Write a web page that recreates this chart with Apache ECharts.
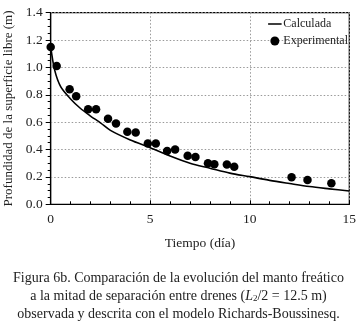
<!DOCTYPE html>
<html>
<head>
<meta charset="utf-8">
<script src="https://cdn.jsdelivr.net/npm/echarts@6/dist/echarts.min.js"></script>
<style>
  html, body { margin: 0; padding: 0; background: #fff; }
  #chart { width: 357px; height: 332px; }
</style>
</head>
<body>
<div id="chart"></div>
<script>
// model curve
var calcDays = [0, 0.2, 0.5, 1, 1.5, 2, 2.5, 3, 4, 5, 6, 7, 8, 9, 10, 11, 12, 13, 14, 15];
var calcDepth = [1.15, 0.98, 0.86, 0.77, 0.70, 0.645, 0.595, 0.54, 0.47, 0.414, 0.353, 0.30, 0.264, 0.228, 0.202, 0.175, 0.152, 0.13, 0.113, 0.097];

// measured points
var expDays = [0, 0.3, 0.95, 1.28, 1.88, 2.28, 2.88, 3.28, 3.85, 4.27, 4.88, 5.28, 5.85, 6.25, 6.88, 7.27, 7.9, 8.22, 8.85, 9.22, 12.1, 12.9, 14.1];
var expDepth = [1.15, 1.01, 0.84, 0.79, 0.695, 0.695, 0.625, 0.59, 0.53, 0.525, 0.445, 0.445, 0.39, 0.40, 0.355, 0.345, 0.30, 0.293, 0.29, 0.275, 0.198, 0.178, 0.154];

var xTicks = [0, 5, 10, 15];
var yTicks = [0, 0.2, 0.4, 0.6, 0.8, 1.0, 1.2, 1.4];

var serif = 'Liberation Serif';

// thin horizontal line icon; the tiny corner specks keep the full icon box
var lineIcon = 'path://M0,0L0.01,0L0,0.01Z M0,4.2L15,4.2L15,5.8L0,5.8Z M0,9.99L0.01,10L0,10Z';

function pairs(xs, ys) {
    return xs.map(function (x, i) { return [x, ys[i]]; });
}

var myChart = echarts.init(document.getElementById('chart'));
var option = {
    animation: false,
    textStyle: { fontFamily: serif, color: '#222' },
    title: {
        text: 'Figura 6b. Comparación de la evolución del manto freático\n' +
              'a la mitad de separación entre drenes ({it|L}{sub|2}/2 = 12.5 m)\n' +
              'observada y descrita con el modelo Richards-Boussinesq.',
        left: 'center',
        top: 264,
        textStyle: {
            fontFamily: serif,
            fontSize: 14,
            fontWeight: 'normal',
            color: '#222',
            lineHeight: 18,
            align: 'center',
            rich: {
                it: { fontFamily: serif, fontSize: 14, fontStyle: 'italic', color: '#222' },
                sub: { fontFamily: serif, fontSize: 9, color: '#222', padding: [6, 0, 0, 0] }
            }
        }
    },
    legend: {
        orient: 'vertical',
        right: 4,
        top: 13,
        itemGap: 5,
        itemWidth: 15,
        itemHeight: 9,
        textStyle: { fontFamily: serif, fontSize: 12, color: '#222', padding: [0, 0, 0, -4] },
        data: [
            { name: 'Calculada', icon: lineIcon, itemStyle: { color: '#000' } },
            { name: 'Experimental', icon: 'circle' }
        ]
    },
    grid: {
        left: 50.7,
        right: 7.7,
        top: 12.7,
        bottom: 127.7,
        show: true,
        borderColor: '#000',
        borderWidth: 1.2,
        containLabel: false,
        outerBoundsMode: 'none'
    },
    xAxis: {
        type: 'value',
        min: 0,
        max: 15,
        interval: 5,
        name: 'Tiempo (día)',
        nameLocation: 'middle',
        nameGap: 32,
        nameTextStyle: { fontFamily: serif, fontSize: 13.5, color: '#222' },
        axisLine: { show: true, lineStyle: { color: '#000', width: 1.2 } },
        axisTick: { show: true, inside: true, length: 4, lineStyle: { color: '#000' } },
        minorTick: { show: true, splitNumber: 5, length: 3, lineStyle: { color: '#000' } },
        axisLabel: {
            fontFamily: serif, fontSize: 13.5, color: '#222', margin: 8,
            formatter: function (v) { return xTicks.indexOf(v) >= 0 ? String(v) : ''; }
        },
        splitLine: { show: true, lineStyle: { color: '#999', type: [1.5, 2] } }
    },
    yAxis: {
        type: 'value',
        min: 0,
        max: 1.4,
        interval: 0.2,
        name: 'Profundidad de la superficie libre (m)',
        nameLocation: 'middle',
        nameGap: 33,
        nameTextStyle: { fontFamily: serif, fontSize: 13, color: '#222' },
        axisLine: { show: true, lineStyle: { color: '#000', width: 1.2 } },
        axisTick: { show: true, inside: false, length: 5, lineStyle: { color: '#000' } },
        minorTick: { show: true, splitNumber: 4, length: 3, lineStyle: { color: '#000' } },
        axisLabel: {
            fontFamily: serif, fontSize: 13.5, color: '#222', margin: 8,
            formatter: function (v) {
                var i = yTicks.findIndex(function (t) { return Math.abs(t - v) < 1e-6; });
                return i >= 0 ? yTicks[i].toFixed(1) : '';
            }
        },
        splitLine: { show: true, lineStyle: { color: '#999', type: [1.5, 2] } }
    },
    series: [
        {
            name: 'Calculada',
            type: 'line',
            data: pairs(calcDays, calcDepth),
            smooth: 0.3,
            symbol: 'none',
            lineStyle: { color: '#000', width: 1.6 },
            itemStyle: { color: '#000' },
            z: 2
        },
        {
            name: 'Experimental',
            type: 'scatter',
            data: pairs(expDays, expDepth),
            symbol: 'circle',
            symbolSize: 8.5,
            itemStyle: { color: '#000', opacity: 1 },
            z: 3
        }
    ]
};
myChart.setOption(option);
</script>
</body>
</html>
